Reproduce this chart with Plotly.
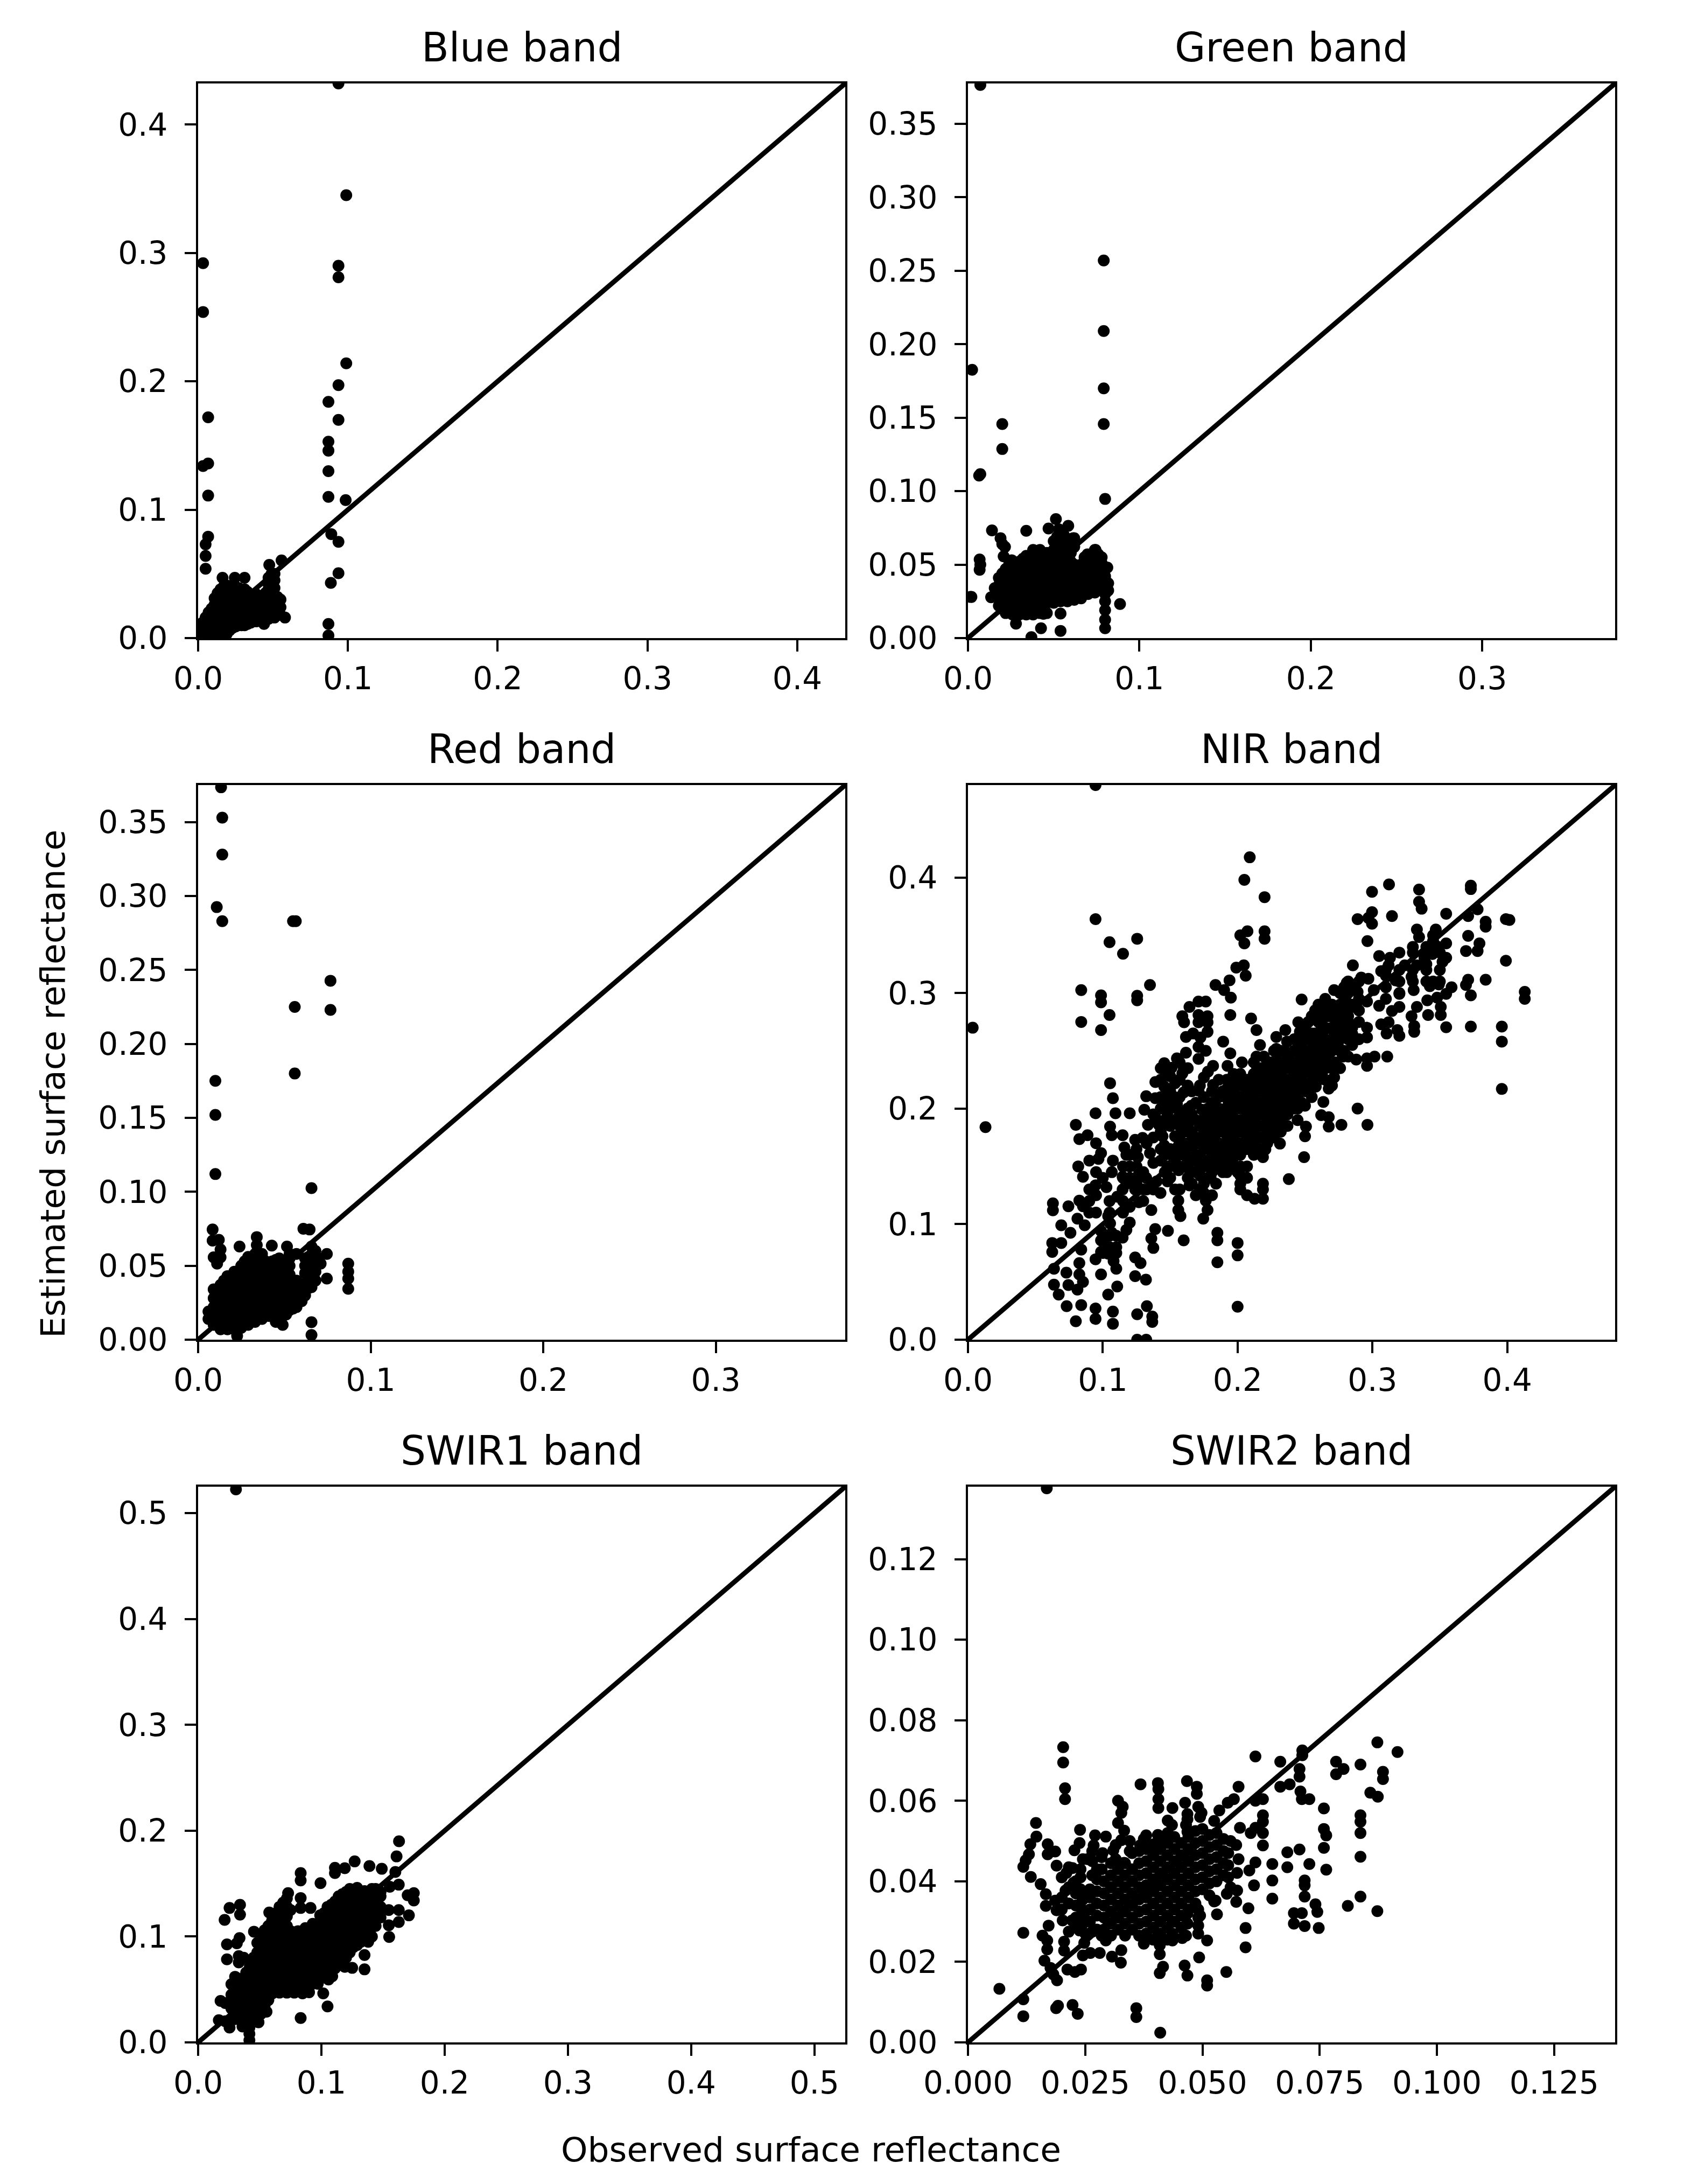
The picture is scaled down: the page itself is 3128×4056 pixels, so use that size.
import plotly.graph_objects as go

titles = ["Blue band", "Green band", "Red band", "NIR band", "SWIR1 band", "SWIR2 band"]
limits = [0.432, 0.3775, 0.375, 0.48, 0.525, 0.138]
x_ticks = [
    [0, 0.1, 0.2, 0.3, 0.4],
    [0, 0.1, 0.2, 0.3],
    [0, 0.1, 0.2, 0.3],
    [0, 0.1, 0.2, 0.3, 0.4],
    [0, 0.1, 0.2, 0.3, 0.4, 0.5],
    [0, 0.025, 0.05, 0.075, 0.1, 0.125],
]
y_ticks = [
    [0, 0.1, 0.2, 0.3, 0.4],
    [0, 0.05, 0.1, 0.15, 0.2, 0.25, 0.3, 0.35],
    [0, 0.05, 0.1, 0.15, 0.2, 0.25, 0.3, 0.35],
    [0, 0.1, 0.2, 0.3, 0.4],
    [0, 0.1, 0.2, 0.3, 0.4, 0.5],
    [0, 0.02, 0.04, 0.06, 0.08, 0.1, 0.12],
]
x_formats = [".1f", ".1f", ".1f", ".1f", ".1f", ".3f"]
y_formats = [".1f", ".2f", ".2f", ".1f", ".1f", ".2f"]

blue_points = [
    (.0937,.432),(.0989,.345),(.0937,.290),(.0937,.281),(.087,.184),(.0937,.197),(.0989,.214),(.0937,.170),
    (.087,.153),(.087,.146),(.087,.130),(.087,.110),(.0985,.1075),(.0889,.081),(.0937,.075),(.0937,.0505),
    (.0886,.043),(.087,.011),(.087,.002),(.0033,.292),(.0033,.254),(.0067,.172),(.0067,.136),(.0033,.134),
    (.0067,.111),(.0067,.079),(.005,.073),(.005,.064),(.005,.054),(.0163,.047),(.0245,.047),(.031,.047),
    (.0475,.057),(.0557,.0605),(.05,.049),(.058,.016),(.044,.011),(.052,.018),
]
blue_columns = {
    .003:[.001,.006,.012], .007:[.002,.008,.014,.020], .011:[.002,.008,.014,.020,.026,.031],
    .015:[.002,.008,.014,.020,.026,.032,.038], .019:[.003,.008,.014,.020,.026,.032,.038,.041],
    .023:[.008,.014,.020,.026,.032,.038,.041], .027:[.010,.015,.021,.027,.033,.039],
    .031:[.010,.015,.021,.027,.033,.038], .035:[.012,.017,.023,.029,.034], .039:[.013,.018,.024,.030,.034],
    .043:[.014,.019,.025,.031], .047:[.015,.020,.026,.032,.038,.042,.047],
    .051:[.016,.021,.027,.033,.039,.045,.05], .055:[.018,.024,.03],
    .005:[.004,.01,.016], .009:[.005,.011,.017,.023], .013:[.005,.011,.017,.023,.029,.035],
    .017:[.005,.011,.017,.023,.029,.035,.04], .021:[.006,.011,.017,.023,.029,.035,.04],
    .025:[.009,.012,.018,.024,.03,.036,.04], .029:[.01,.018,.024,.03,.036], .033:[.011,.02,.026,.032,.036],
    .037:[.013,.02,.026,.032], .041:[.016,.022,.028], .045:[.017,.023,.029,.035],
    .049:[.018,.024,.03,.036,.042,.05], .053:[.02,.026,.032],
}

green_points = [
    (.08,.0947),(.014,.0733),(.019,.068),(.02,.064),(.0216,.062),(.0208,.0556),(.0255,.053),(.034,.073),
    (.047,.0746),(.0513,.081),(.053,.074),(.0585,.0764),(.0068,.0535),(.0068,.0465),(.0014,.028),(.0135,.0278),
    (.0156,.034),(.0887,.0232),(.054,.0167),(.054,.0049),(.0426,.0067),(.028,.0098),(.037,.0006),(.044,.0165),
    (.08,.0067),(.08,.0125),(.08,.019),(.08,.025),(.08,.03),(.08,.036),(.08,.042),(.0818,.0324),(.0818,.0373),
    (.0813,.048),(.077,.0544),(.0744,.06),(.0697,.057),(.0613,.068),(.0792,.257),(.0792,.209),(.0792,.170),
    (.0792,.1457),(.02,.1457),(.02,.1287),(.0072,.1116),(.0065,.1106),(.0024,.1826),(.0072,.05),(.002,.028),
    (.0072,.3765),
]
green_columns = {
    .018:[.022,.029,.036,.041], .022:[.017,.023,.029,.035,.041,.047], .026:[.016,.022,.028,.034,.040,.047],
    .030:[.016,.022,.028,.034,.040,.046,.052], .034:[.016,.022,.028,.034,.040,.046,.052,.056],
    .038:[.016,.022,.028,.034,.040,.046,.052,.058,.060], .042:[.017,.023,.029,.035,.041,.047,.053,.060],
    .046:[.017,.024,.030,.036,.042,.048,.054,.058], .050:[.024,.030,.036,.042,.048,.054,.060,.066],
    .054:[.025,.031,.037,.043,.049,.055,.061,.067,.073], .058:[.025,.031,.037,.043,.049,.055,.061,.067],
    .062:[.026,.032,.038,.044,.050,.062,.068], .066:[.027,.033,.039,.045,.05], .070:[.030,.036,.042,.048,.054],
    .074:[.031,.037,.043,.049,.055,.060], .078:[.033,.039,.045,.051,.055],
    .020:[.02,.026,.032,.038,.044], .024:[.02,.026,.032,.038,.044,.05], .028:[.019,.025,.031,.037,.043,.049],
    .032:[.019,.025,.031,.037,.043,.049,.054], .036:[.019,.025,.031,.037,.043,.049,.055],
    .040:[.019,.025,.031,.037,.043,.049,.055,.059], .044:[.02,.026,.032,.038,.044,.05,.056],
    .048:[.027,.033,.039,.045,.051,.057], .052:[.027,.033,.039,.045,.051,.057,.063,.069],
    .056:[.027,.033,.039,.045,.051,.057,.063,.07], .060:[.028,.034,.04,.046,.052,.058,.064],
    .064:[.03,.036,.042,.048], .068:[.032,.038,.044,.05,.055], .072:[.032,.038,.044,.05,.056],
    .076:[.034,.04,.046,.052,.057],
}

red_points = [
    (.01,.175),(.01,.152),(.01,.112),(.056,.18),(.0657,.1025),(.061,.075),(.0646,.0745),(.0084,.0745),(.0084,.067),
    (.012,.0675),(.013,.061),(.009,.0557),(.011,.0514),(.013,.0557),(.034,.0694),(.034,.064),(.024,.063),(.0427,.0636),
    (.0515,.063),(.0746,.058),(.0746,.0413),(.087,.0514),(.087,.046),(.087,.0413),(.087,.0344),(.0657,.0118),
    (.0657,.0032),(.0226,.0025),(.0483,.011),(.0657,.063),(.069,.0557),(.0657,.0355),(.071,.0514),
    (.0133,.3735),(.014,.353),(.014,.328),(.0108,.2925),(.014,.283),(.055,.283),(.0566,.283),(.056,.225),
    (.0767,.2427),(.0767,.223),
]
red_columns = {
    .006:[.014,.019], .009:[.010,.016,.022,.028,.034], .013:[.007,.013,.019,.025,.031,.037],
    .017:[.007,.013,.019,.025,.031,.037,.043], .021:[.007,.013,.019,.025,.031,.037,.043,.046],
    .025:[.008,.014,.020,.026,.032,.038,.044,.050], .029:[.010,.016,.022,.028,.034,.040,.046,.052,.056],
    .033:[.012,.018,.024,.030,.036,.042,.048,.054,.058], .037:[.014,.020,.026,.032,.038,.044,.050,.056,.058],
    .041:[.016,.022,.028,.034,.040,.046,.052], .045:[.012,.018,.024,.030,.036,.042,.048,.054],
    .049:[.010,.016,.022,.028,.034,.040,.046,.052], .053:[.020,.026,.032,.038,.044,.050,.055,.058],
    .057:[.022,.028,.034,.040,.058], .060:[.026,.032], .064:[.035,.040,.045,.050,.056], .068:[.04,.046,.052,.06],
    .011:[.012,.019,.028,.034], .015:[.01,.016,.022,.028,.034,.04], .019:[.01,.016,.022,.028,.034,.04],
    .023:[.01,.016,.022,.028,.034,.04,.046], .027:[.011,.017,.023,.029,.035,.041,.047,.053],
    .031:[.013,.019,.025,.031,.037,.043,.049,.055], .035:[.015,.021,.027,.033,.039,.045,.051,.057],
    .039:[.017,.023,.029,.035,.041,.047,.053], .043:[.017,.023,.029,.035,.041,.047,.053],
    .047:[.013,.019,.025,.031,.037,.043,.049,.055], .051:[.017,.023,.029,.035,.041,.047,.053],
    .055:[.021,.027,.033,.039], .062:[.03,.038,.045,.05,.055], .066:[.038,.043,.048,.053,.058],
}

nir_points = [
    (.0946,.48),(.0035,.27),(.013,.184),(.0946,.364),(.105,.344),(.115,.334),(.1255,.347),(.135,.307),(.084,.3026),
    (.0987,.298),(.0987,.292),(.1255,.2977),(.1255,.2937),(.105,.281),(.084,.275),(.0987,.268),(.209,.4175),(.205,.398),
    (.22,.383),(.202,.35),(.2073,.3535),(.205,.343),(.22,.3535),(.22,.347),(.199,.322),(.2046,.324),(.206,.315),
    (.1836,.307),(.194,.311),(.19,.3026),(.195,.296),(.1946,.281),(.3123,.394),(.2997,.3876),(.3346,.3896),(.3346,.379),
    (.3365,.373),(.373,.393),(.373,.39),(.289,.364),(.297,.365),(.2997,.37),(.2997,.36),(.3145,.3666),(.3547,.3686),
    (.2963,.345),(.333,.355),(.3346,.3485),(.371,.3666),(.378,.3725),(.384,.3617),(.384,.3574),(.399,.364),(.4016,.3633),
    (.371,.3495),(.3694,.3364),(.3794,.343),(.378,.3364),(.399,.328),(.371,.3115),(.3694,.307),(.384,.3115),(.373,.298),
    (.413,.301),(.413,.295),(.373,.271),(.396,.271),(.396,.258),(.396,.217),(.3547,.2704),(.3507,.281),(.3507,.288),
    (.3413,.281),(.333,.288),(.3407,.2937),(.329,.28),(.331,.2714),(.331,.2665),(.32,.263),(.3185,.268),(.3105,.265),
    (.3065,.273),(.312,.2747),(.32,.288),(.3145,.2845),(.305,.289),(.3426,.306),(.3493,.3075),(.3587,.305),(.3547,.2993),
    (.348,.296),(.352,.327),(.3547,.3305),(.3547,.343),(.347,.355),(.348,.3403),(.3445,.3338),(.3386,.3305),(.333,.324),
    (.329,.314),(.324,.324),(.3306,.3026),(.32,.2993),(.313,.3305),(.305,.332),(.3065,.319),(.312,.324),(.3172,.311),
    (.301,.3026),(.297,.3124),(.2917,.3134),(.2855,.324),(.281,.309),(.2716,.3026),(.28,.296),(.289,.301),(.296,.2927),
    (.2877,.288),(.278,.2845),(.269,.286),(.261,.281),(.2743,.2747),(.2823,.2747),(.296,.27),(.296,.2616),(.285,.2648),
    (.2716,.2665),(.2636,.27),(.2636,.258),(.2743,.255),(.285,.255),(.278,.245),(.288,.2425),(.296,.2435),(.3016,.245),
    (.311,.245),(.296,.237),(.2716,.24),(.2662,.2353),(.2716,.227),(.258,.2484),(.2555,.258),(.2475,.2944),(.245,.2747),
    (.2462,.2665),(.2354,.268),(.2287,.262),(.2367,.258),(.245,.255),(.2287,.2517),(.2367,.2484),(.2475,.245),(.258,.2353),
    (.2287,.2419),(.238,.2386),(.25,.232),(.258,.219),(.2676,.2173),(.2636,.2058),(.262,.1943),(.2676,.1926),(.2676,.1844),
    (.277,.186),(.289,.2),(.2963,.186),(.2475,.2255),(.245,.2123),(.25,.2025),(.218,.2337),(.2166,.255),(.214,.245),
    (.21,.278),(.214,.268),(.1643,.288),(.171,.2927),(.1764,.2927),(.159,.28),(.1603,.2747),(.171,.281),(.1777,.28),
    (.171,.2747),(.1777,.2747),(.1617,.262),(.167,.265),(.1777,.2665),(.1724,.2616),(.171,.2534),(.1764,.25),(.1893,.258),
    (.171,.243),(.1946,.2478),(.1925,.237),(.2032,.24),(.178,.232),(.1818,.237),(.175,.227),(.1818,.2205),(.1617,.2484),
    (.155,.2435),(.1456,.2393),(.151,.2353),(.159,.2304),(.147,.229),(.139,.223),(.1536,.222),(.1456,.219),(.16,.214),
    (.171,.2156),(.1322,.2107),(.139,.209),(.148,.2074),(.1308,.199),(.148,.194),(.139,.1926),(.1335,.186),(.1416,.186),
    (.155,.204),(.1657,.2025),(.1737,.199),(.18,.196),(.159,.1976),(.1643,.191),(.156,.1894),(.1724,.1894),(.18,.186),
    (.186,.194),(.1443,.176),(.1536,.176),(.1643,.1795),(.175,.181),(.183,.176),(.1456,.168),(.1563,.168),(.167,.168),
    (.1777,.1697),(.183,.163),(.151,.16),(.1617,.16),(.1724,.158),(.1818,.153),(.135,.1615),(.1375,.153),(.1268,.1434),
    (.1322,.14),(.148,.15),(.1563,.1467),(.1643,.1467),(.1724,.1418),(.18,.14),(.14,.137),(.148,.137),(.1536,.13),
    (.1643,.1335),(.1428,.127),(.124,.13),(.1268,.119),(.156,.1204),(.175,.127),(.1764,.1204),(.136,.1122),(.156,.1122),
    (.1576,.107),(.1777,.1122),(.1745,.1047),(.1054,.222),(.1075,.209),(.0946,.196),(.1094,.196),(.12,.196),(.08,.186),
    (.0826,.1736),(.0887,.177),(.1054,.1844),(.1067,.177),(.1147,.177),(.1295,.1746),(.124,.173),(.116,.1664),(.0987,.1615),
    (.0968,.1565),(.126,.158),(.1075,.155),(.0818,.15),(.0853,.141),(.1067,.145),(.1147,.141),(.1,.14),(.0946,.1336),
    (.1027,.132),(.1147,.13),(.1107,.1237),(.063,.118),(.063,.112),(.0745,.1155),(.0826,.1204),(.0853,.1155),(.104,.107),
    (.12,.1014),(.0812,.1047),(.0866,.099),(.0692,.099),(.076,.0925),(.1054,.1007),(.0987,.094),(.1067,.0925),(.0987,.086),
    (.1147,.0883),(.1389,.0958),(.1483,.0942),(.136,.0876),(.1375,.0794),(.16,.086),(.185,.0925),(.185,.086),(.2,.0837),
    (.2,.073),(.185,.067),(.0625,.0837),(.0692,.0837),(.0625,.076),(.084,.078),(.0987,.076),(.104,.0745),(.0946,.0696),
    (.0826,.0663),(.108,.068),(.124,.0712),(.128,.0663),(.0638,.0614),(.073,.058),(.11,.0614),(.0826,.0565),(.0853,.05),
    (.0987,.0565),(.124,.055),(.132,.052),(.0638,.0476),(.0745,.0473),(.0812,.0433),(.0673,.039),(.104,.039),(.1107,.046),
    (.0732,.029),(.084,.03),(.0946,.027),(.1075,.0243),(.08,.016),(.0946,.018),(.1075,.0138),(.1255,.022),(.1327,.029),
    (.1367,.02),(.1367,.0154),(.1255,0),(.1322,0),(.2,.0285),(.2126,.122),(.2188,.122),(.2188,.13),(.2188,.135),(.238,.139),
    (.2493,.158),(.2188,.158),(.2206,.1647),(.2314,.1697),(.25,.176),(.2507,.1844),
]
nir_columns = {
    .192:[.145,.153,.161,.169,.177,.185,.193,.201,.209,.217,.225],
    .197:[.15,.158,.166,.174,.182,.19,.198,.206,.214,.222,.23],
    .202:[.13,.135,.142,.15,.16,.17,.18,.19,.2,.21,.22,.23],
    .207:[.125,.14,.15,.165,.175,.185,.195,.205,.215,.225],
    .212:[.16,.17,.18,.19,.2,.21,.22,.23,.24],
    .217:[.165,.175,.185,.195,.205,.215,.225,.235],
    .222:[.17,.18,.19,.2,.21,.22,.23,.24],
    .227:[.175,.185,.195,.205,.215,.225,.235,.25],
    .232:[.18,.19,.2,.21,.22,.23,.24,.25],
    .237:[.185,.195,.205,.215,.225,.235,.245],
    .242:[.2,.21,.22,.23,.24,.25,.26],
    .143:[.155,.165,.18,.2,.21,.225,.235], .150:[.14,.15,.165,.185,.2,.215,.228],
    .157:[.13,.15,.16,.175,.185,.195,.21,.225,.24], .163:[.14,.155,.17,.185,.2,.22,.235],
    .169:[.125,.145,.16,.175,.19,.205], .175:[.135,.15,.165,.175,.19,.21],
    .181:[.125,.145,.16,.17,.18,.19,.205,.215], .186:[.15,.16,.17,.18,.19,.2,.21,.225],
    .2445:[.19,.2,.215,.225,.235,.24,.26], .25:[.215,.222,.24,.25,.262,.27],
    .255:[.21,.22,.23,.24,.25,.265,.28], .26:[.225,.235,.245,.255,.265,.275,.29],
    .265:[.225,.24,.25,.26,.27,.28,.295], .27:[.22,.235,.25,.26,.27,.28,.29],
    .276:[.235,.25,.26,.27,.28,.29,.3], .282:[.245,.26,.27,.28,.29,.3,.31], .29:[.26,.275,.285,.295,.31],
    .1945:[.157,.173,.189,.205,.221], .2:[.145,.165,.185,.205,.225], .2095:[.17,.18,.19,.2,.21,.22],
    .2145:[.165,.175,.185,.195,.205,.215,.225,.235], .2195:[.175,.185,.195,.205,.215,.225,.235,.245],
    .2245:[.18,.19,.2,.21,.22,.23,.24], .2295:[.18,.19,.2,.21,.22,.23,.24], .2345:[.185,.195,.205,.215,.225,.235],
    .115:[.11,.12,.14,.15], .12:[.115,.14,.15,.16], .125:[.135,.15,.165], .13:[.12,.13,.145],
    .105:[.08,.09,.11,.12], .1:[.075,.085], .11:[.075,.08,.09],
    .31:[.295,.305,.315,.32], .32:[.3,.31,.32,.335], .33:[.31,.32,.335,.34], .34:[.31,.32,.325,.34],
    .35:[.31,.32,.335], .345:[.31,.345,.35],
    .09:[.11,.12,.13,.155], .095:[.11,.125,.145,.17], .1175:[.095,.135,.16], .1325:[.13,.17], .1375:[.13,.175,.195],
    .146:[.145,.16,.19,.205], .153:[.155,.19,.21], .16:[.165,.18,.19,.235], .166:[.135,.155,.18,.195,.215],
    .172:[.13,.15,.17,.185,.22], .178:[.14,.155,.185,.2], .184:[.135,.155,.17,.185,.2], .189:[.145,.165,.18,.215],
    .2475:[.205,.235,.255], .2525:[.235,.245,.26,.275], .2575:[.225,.245,.265,.285], .2625:[.23,.25,.27,.285],
    .2675:[.245,.255,.28,.29], .2725:[.24,.265,.285], .279:[.25,.265,.305], .285:[.27,.29,.305],
}

swir1_points = [
    (.163,.19),(.161,.1757),(.127,.171),(.139,.1666),(.149,.164),(.119,.1646),(.111,.165),(.111,.16),(.0832,.16),
    (.0832,.153),(.0993,.1505),(.073,.141),(.0832,.1364),(.0832,.127),(.0912,.127),(.0577,.1227),(.034,.13),(.0255,.127),
    (.034,.1207),(.0215,.1157),(.0453,.1046),(.0336,.0986),(.0234,.0926),(.0314,.0936),(.0234,.0785),(.033,.0815),
    (.033,.0755),(.037,.08),(.175,.141),(.175,.134),(.17,.139),(.1555,.147),(.1628,.149),(.16,.161),(.1467,.125),
    (.1547,.125),(.1628,.125),(.171,.12),(.1628,.1137),(.1547,.1107),(.155,.0996),(.135,.0825),(.135,.069),(.125,.0704),
    (.119,.0714),(.105,.034),(.0832,.023),(.1015,.0463),(.09,.0473),(.0847,.0463),(.0971,.0553),(.1058,.0594),(.1088,.0624),
    (.0555,.029),(.0182,.0392),(.022,.0372),(.0416,.002),(.0416,.008),(.0416,.014),(.049,.019),(.0255,.014),(.0168,.021),
    (.022,.02),(.0307,.5225),
]
swir1_columns = {
    .030:[.022,.031,.040,.049,.058,.062], .036:[.015,.024,.033,.042,.051,.060],
    .042:[.017,.026,.035,.044,.053,.062,.072], .048:[.022,.031,.040,.049,.058,.067,.076,.085,.094],
    .054:[.035,.044,.053,.062,.071,.080,.089,.098,.106], .060:[.046,.055,.064,.073,.082,.091,.100,.109,.115],
    .066:[.047,.056,.065,.074,.083,.092,.101,.110,.119,.128], .072:[.047,.056,.065,.074,.083,.092,.101,.110,.119,.128,.136],
    .078:[.047,.056,.065,.074,.083,.092,.100], .084:[.048,.057,.066,.075,.084,.093,.102],
    .090:[.052,.061,.070,.079,.088,.097,.104], .096:[.058,.067,.076,.085,.094,.103,.110],
    .102:[.062,.071,.080,.089,.098,.107,.116,.122], .108:[.066,.075,.084,.093,.102,.111,.120,.130],
    .114:[.075,.084,.093,.102,.111,.120,.129,.138], .120:[.080,.089,.098,.107,.116,.125,.134,.142],
    .126:[.090,.099,.108,.117,.126,.135,.144], .132:[.095,.104,.113,.122,.131,.140],
    .138:[.095,.104,.113,.122,.131,.139], .144:[.110,.119,.128,.137,.145], .148:[.118,.128,.138,.142],
    .039:[.020,.030,.039,.048,.057,.066], .045:[.025,.030,.039,.048,.057,.067,.08],
    .051:[.027,.036,.045,.054,.063,.072,.081,.09,.1], .057:[.04,.049,.058,.067,.076,.085,.094,.103,.11],
    .063:[.05,.06,.069,.078,.087,.096,.105,.114,.122], .069:[.05,.06,.069,.078,.087,.096,.105,.114,.123,.132],
    .075:[.05,.06,.069,.078,.087,.096,.105,.125], .081:[.052,.061,.07,.079,.088,.097,.105],
    .087:[.055,.064,.073,.082,.091,.1,.108], .093:[.06,.069,.078,.087,.096,.105,.112],
    .099:[.06,.069,.078,.087,.096,.105,.114,.12], .105:[.065,.074,.083,.092,.101,.11,.119,.128],
    .111:[.07,.079,.088,.097,.106,.115,.124,.133], .117:[.078,.087,.096,.105,.114,.123,.132,.14],
    .123:[.085,.094,.103,.112,.121,.13,.139,.145], .129:[.092,.101,.11,.119,.128,.137,.146],
    .135:[.098,.107,.116,.125,.134,.143], .141:[.1,.109,.118,.127,.136,.145],
    .033:[.025,.035,.045,.055,.06], .027:[.022,.032,.045,.055],
}

swir2_points = [
    (.0203,.0733),(.0203,.0695),(.0207,.0631),(.0207,.0604),(.0145,.0545),(.0067,.0133),(.0118,.0272),(.0118,.0107),
    (.0118,.0065),(.0188,.0085),(.0192,.0091),(.0223,.0093),(.0234,.0071),(.0359,.0085),(.0359,.0063),(.041,.0024),
    (.0368,.0641),(.0405,.0644),(.0406,.0629),(.0467,.0649),(.0488,.0635),(.0488,.0617),(.0406,.0604),(.0406,.0582),
    (.0463,.0595),(.032,.06),(.033,.0585),(.0327,.057),(.0491,.0585),(.0436,.0582),(.0468,.0567),(.0468,.0554),(.0498,.057),
    (.0536,.0576),(.0554,.0595),(.0567,.0604),(.0577,.0635),(.0613,.071),(.0666,.0697),(.0713,.0725),(.0713,.0713),
    (.0707,.0679),(.0707,.066),(.0666,.0635),(.0686,.0641),(.0709,.0623),(.0712,.0604),(.0728,.0604),(.0613,.06),(.0629,.0604),
    (.0629,.0564),(.0629,.0548),(.0785,.0697),(.0801,.0679),(.0785,.0666),(.0837,.069),(.0873,.0745),(.0916,.0721),
    (.0885,.0672),(.0885,.0654),(.0858,.062),(.0874,.061),(.0759,.0581),(.0837,.0564),(.0837,.0548),(.0837,.052),(.0759,.053),
    (.0764,.0514),(.0759,.0483),(.0837,.0461),(.0707,.0479),(.0681,.0472),(.0681,.0435),(.0649,.0443),(.0728,.0443),
    (.0764,.0429),(.0649,.0402),(.0718,.0402),(.0718,.039),(.0649,.0357),(.0718,.0362),(.0741,.0343),(.0745,.0324),(.0712,.0321),
    (.0695,.0321),(.0695,.0295),(.0718,.0289),(.0748,.0284),(.0837,.0362),(.081,.0339),(.0873,.0326),(.0613,.0533),(.0629,.052),
    (.0629,.0489),(.0603,.052),(.0572,.049),(.058,.0533),(.0613,.0447),(.0577,.0455),(.06,.0427),(.061,.039),(.0574,.0421),
    (.0574,.0377),(.0552,.0369),(.0572,.0349),(.0598,.0333),(.0592,.0284),(.0592,.0236),(.0528,.0352),(.0531,.0318),
    (.051,.0253),(.0493,.0211),(.0551,.0175),(.051,.0154),(.051,.0141),(.0462,.0191),(.0468,.0166),(.0416,.0188),(.0409,.0172),
    (.0409,.0219),(.0409,.0241),(.0436,.0253),(.0457,.0259),(.0327,.0229),(.0307,.0213),(.0326,.0198),(.0281,.0222),(.0261,.0222),
    (.0245,.0216),(.0241,.0181),(.0228,.0175),(.0212,.0181),(.019,.0154),(.0182,.0169),(.0176,.0185),(.0163,.0203),(.0169,.0231),
    (.0169,.0253),(.0159,.0265),(.0205,.025),(.0205,.0228),(.0294,.0253),(.0146,.0511),(.017,.0492),(.0133,.0492),(.0186,.0474),
    (.017,.0467),(.013,.0467),(.0123,.0452),(.0118,.0436),(.0134,.0411),(.0155,.0393),(.0166,.0368),(.0186,.0352),(.0166,.0339),
    (.0189,.0439),(.0189,.0328),(.021,.0421),(.0223,.0433),(.0227,.0477),(.0238,.0495),(.0239,.0528),(.0271,.0514),(.0268,.0489),
    (.0294,.0511),(.032,.0545),(.0333,.0526),(.0327,.0502),(.0255,.0455),(.0287,.047),(.031,.0477),(.038,.0514),(.0367,.0489),
    (.0396,.0492),(.0333,.0446),(.0426,.0551),(.0426,.052),(.0468,.0523),(.0208,.0377),(.0225,.0396),(.0241,.0365),(.0202,.0303),
    (.0172,.029),(.0222,.0303),(.0238,.0278),(.0248,.0247),(.0491,.027),(.0491,.029),(.0491,.031),(.0491,.033),(.0468,.0295),
    (.0468,.032),(.0436,.03),(.0436,.027),(.0168,.1376),
]
swir2_columns = {
    .026:[.030,.033,.036,.038], .029:[.028,.031,.034,.037,.040], .032:[.028,.031,.034,.037,.040,.043],
    .035:[.028,.031,.034,.037,.040,.043,.047], .038:[.027,.030,.033,.036,.039,.042,.045,.048],
    .041:[.027,.030,.033,.036,.039,.042,.045,.048,.05], .044:[.030,.033,.036,.039,.042,.045,.048,.051],
    .047:[.033,.036,.039,.042,.045,.048,.051], .050:[.038,.041,.044,.047,.05,.053],
    .053:[.040,.043,.046,.049,.052], .0555:[.041,.044,.047],
    .0275:[.028,.0315,.0345,.0375,.0405,.043], .0305:[.0265,.0295,.0325,.0355,.0385,.0415,.0445],
    .0335:[.0265,.0295,.0325,.0355,.0385,.0415,.0445], .0365:[.0265,.0295,.0325,.0355,.0385,.0415,.0445,.0475],
    .0395:[.0255,.0285,.0315,.0345,.0375,.0405,.0435,.0465], .0425:[.0255,.0285,.0315,.0345,.0375,.0405,.0435,.0465,.0495],
    .0455:[.0285,.0315,.0345,.0375,.0405,.0435,.0465,.0495], .0485:[.0345,.0375,.0405,.0435,.0465,.0495,.0525],
    .0515:[.0365,.0395,.0425,.0455,.0485,.0515], .0545:[.0415,.0445,.0475,.0505],
    .023:[.029,.031,.034,.037,.04], .020:[.033,.036,.041], .024:[.0335,.038,.041,.043], .025:[.027,.03,.0325],
    .0215:[.0275,.0345,.0385,.0435], .0245:[.0295,.0315,.0355,.0455], .0265:[.0275,.0415,.045,.0475],
    .0285:[.0265,.043,.046], .0315:[.0455,.049], .0345:[.0475,.05], .0375:[.0245,.0505], .0405:[.0265,.0515],
    .0435:[.054], .0465:[.0265,.054], .0495:[.0315,.056], .0525:[.035,.055], .056:[.0385,.05],
}

all_points = [blue_points, green_points, red_points, nir_points, swir1_points, swir2_points]
all_columns = [blue_columns, green_columns, red_columns, nir_columns, swir1_columns, swir2_columns]

W, H = 3128, 4056
PAGE = 8
col_px = [(368 - PAGE, 1570 - PAGE), (1798 - PAGE, 3000 - PAGE)]
row_px = [(155 - PAGE, 1185 - PAGE), (1458 - PAGE, 2488 - PAGE), (2761 - PAGE, 3793 - PAGE)]
TICK = 58
LABEL = 63
TITLE = 74

fig = go.Figure()
annotations = []
for i in range(6):
    r, c = i // 2, i % 2
    n = "" if i == 0 else str(i + 1)
    xs = [p[0] for p in all_points[i]]
    ys = [p[1] for p in all_points[i]]
    for cx, cy in all_columns[i].items():
        xs += [cx] * len(cy)
        ys += cy
    fig.add_trace(go.Scatter(x=xs, y=ys, mode="markers", xaxis="x" + n, yaxis="y" + n, showlegend=False,
                             marker=dict(color="black", size=22, line=dict(width=0))))
    fig.add_trace(go.Scatter(x=[0, limits[i]], y=[0, limits[i]], mode="lines", xaxis="x" + n, yaxis="y" + n,
                             showlegend=False, line=dict(color="black", width=9)))
    common = dict(showline=True, mirror=True, linecolor="black", linewidth=4, ticks="outside", ticklen=21,
                  tickwidth=4, tickcolor="black", showgrid=False, zeroline=False, automargin=False,
                  tickfont=dict(family="DejaVu Sans", size=TICK, color="black"), fixedrange=True)
    x0, x1 = col_px[c]
    y0, y1 = row_px[r]
    fig.layout["xaxis" + n] = dict(common, range=[0, limits[i]], domain=[x0 / W, x1 / W], anchor="y" + n,
                                   tickvals=x_ticks[i], tickformat=x_formats[i], ticklabelstandoff=0)
    fig.layout["yaxis" + n] = dict(common, range=[0, limits[i]], domain=[1 - y1 / H, 1 - y0 / H], anchor="x" + n,
                                   tickvals=y_ticks[i], tickformat=y_formats[i], ticklabelstandoff=20)
    annotations.append(dict(text=titles[i], x=(x0 + x1) / 2 / W, y=1 - (y0 - 22) / H, xref="paper", yref="paper",
                            xanchor="center", yanchor="bottom", showarrow=False,
                            font=dict(family="DejaVu Sans", size=TITLE, color="black")))

annotations.append(dict(text="Estimated surface reflectance", x=(98 - PAGE) / W, y=1 - (2013 - PAGE) / H, xref="paper",
                        yref="paper", textangle=-90, xanchor="center", yanchor="middle", showarrow=False,
                        font=dict(family="DejaVu Sans", size=LABEL, color="black")))
annotations.append(dict(text="Observed surface reflectance", x=(1506 - PAGE) / W, y=1 - (3992 - PAGE) / H, xref="paper",
                        yref="paper", xanchor="center", yanchor="middle", showarrow=False,
                        font=dict(family="DejaVu Sans", size=LABEL, color="black")))

fig.update_layout(width=W, height=H, margin=dict(l=0, r=0, t=0, b=0), paper_bgcolor="white", plot_bgcolor="white",
                  annotations=annotations)
fig.write_html("out.html")
